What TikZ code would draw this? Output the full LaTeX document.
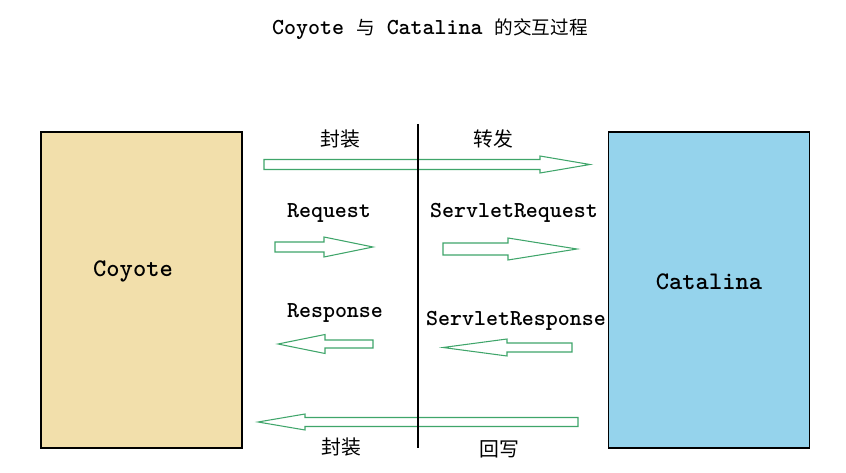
\documentclass[tikz,border=0pt]{standalone}
\usepackage{fontspec}
\newfontfamily\cjkfont{Noto Sans CJK SC}
\usetikzlibrary{positioning}
\definecolor{coyotetan}{HTML}{F2DFAB}
\definecolor{catalinablue}{HTML}{95D3EC}
\definecolor{arrowgreen}{HTML}{3FA56A}
\tikzset{
	monotext/.style={font=\fontsize{13}{15}\selectfont\ttfamily\bfseries, inner sep=0pt}
}
\tikzset{
	bigmonotext/.style={font=\fontsize{14.4}{16}\selectfont\ttfamily\bfseries, inner sep=0pt}
}
\tikzset{
	cjktext/.style={font=\fontsize{11.3}{13}\selectfont\cjkfont, inner sep=0pt}
}
\tikzset{
	sidebox/.style={draw=black, line width=0.7pt, inner sep=0pt,
			minimum width=4.02cm, minimum height=6.32cm}
}
\tikzset{
	flowarrow/.style={draw=arrowgreen, fill=white, line width=0.6pt, line join=miter}
}

\begin{document}
\begin{tikzpicture}[x=0.02cm, y=-0.02cm]

	\useasboundingbox (0,0) rectangle (846,473);

	% title
	\node[monotext] (title) at (430,29.5) {Coyote {\cjkfont\mdseries\fontsize{10.6}{13}\selectfont 与} Catalina {\cjkfont\mdseries\fontsize{10.6}{13}\selectfont 的交互过程}};

	% the two sides
	\node[sidebox, fill=coyotetan] (coyote) at (141.5,290) {};
	\node[sidebox, fill=catalinablue] (catalina) at (709,290) {};
	\node[bigmonotext] (coyotelabel) at (133,271) {Coyote};
	\node[bigmonotext] (catalinalabel) at (709,282) {Catalina};

	% block arrows, going right
	\draw[flowarrow] (264,159.5) -- (540,159.5) -- (540,156) -- (590,164.5) -- (540,173) -- (540,169.5) -- (264,169.5) -- cycle;
	\draw[flowarrow] (275,242) -- (324,242) -- (324,237) -- (373,247) -- (324,257) -- (324,252) -- (275,252) -- cycle;
	\draw[flowarrow] (443,243) -- (508,243) -- (508,238) -- (577,249) -- (508,260) -- (508,255) -- (443,255) -- cycle;

	% block arrows, going left
	\draw[flowarrow] (373,340) -- (325,340) -- (325,334.5) -- (278,344) -- (325,353.5) -- (325,348) -- (373,348) -- cycle;
	\draw[flowarrow] (572,343) -- (507,343) -- (507,339) -- (443,347.5) -- (507,356) -- (507,352) -- (572,352) -- cycle;
	\draw[flowarrow] (578,417.5) -- (305,417.5) -- (305,414) -- (258,422) -- (305,430) -- (305,426.5) -- (578,426.5) -- cycle;

	% divider
	\draw[line width=0.7pt] (418,124) -- (418,448);

	% labels
	\node[cjktext] (wraptop) at (340,139) {封装};
	\node[cjktext] (forward) at (493,139) {转发};
	\node[monotext] (req) at (329,213) {Request};
	\node[monotext] (sreq) at (514,213) {ServletRequest};
	\node[monotext] (resp) at (335,313) {Response};
	\node[monotext] (sresp) at (516,321) {ServletResponse};
	\node[cjktext] (wrapbottom) at (341,447) {封装};
	\node[cjktext] (writeback) at (499,449) {回写};

\end{tikzpicture}
\end{document}
